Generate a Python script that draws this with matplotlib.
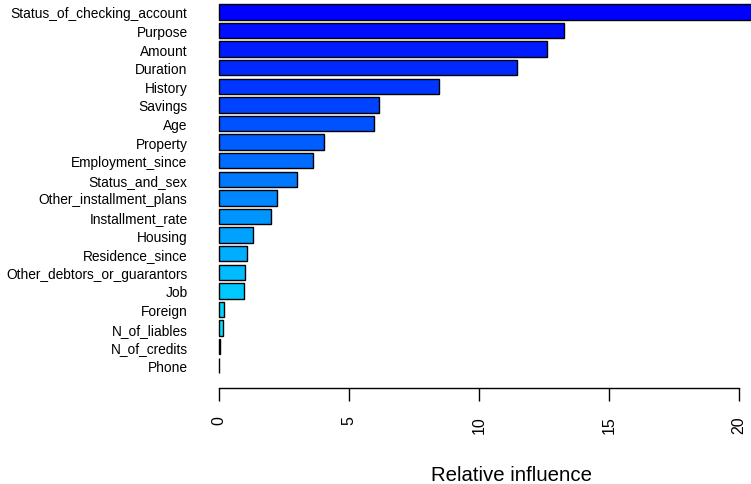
import colorsys

import matplotlib
matplotlib.use("Agg")
import matplotlib.pyplot as plt
import numpy as np

# relative influence of each predictor, highest first
variables = [
    "Status_of_checking_account", "Purpose", "Amount", "Duration", "History",
    "Savings", "Age", "Property", "Employment_since", "Status_and_sex",
    "Other_installment_plans", "Installment_rate", "Housing", "Residence_since",
    "Other_debtors_or_guarantors", "Job", "Foreign", "N_of_liables",
    "N_of_credits", "Phone",
]
rel_inf = [
    22.55, 13.26, 12.62, 11.45, 8.45,
    6.17, 5.95, 4.03, 3.60, 2.99,
    2.22, 2.01, 1.30, 1.08,
    1.00, 0.95, 0.19, 0.17,
    0.02, 0.0,
]
x_ticks = [0, 5, 10, 15, 20]

plt.rcParams["font.family"] = ["Liberation Sans", "DejaVu Sans"]

# drawn bottom-up like a horizontal barplot
names = variables[::-1]
vals = rel_inf[::-1]
n = len(vals)
ypos = np.arange(n)

# rainbow palette from cyan (bottom) to blue (top)
cols = [colorsys.hsv_to_rgb(0.5 + (1 / 6) * i / (n - 1), 1, 1) for i in range(n)]

W, H = 751, 485
fig = plt.figure(figsize=(W / 100, H / 100), dpi=100)

px_per_unit = 26.0
x0_px = 219.0
left_px = x0_px - 0.3 * px_per_unit
ax = fig.add_axes([left_px / W, (H - 389) / H, (W - left_px) / W, 389 / H])

ax.barh(ypos, vals, height=0.833, color=cols, edgecolor="black", linewidth=1.0)

ax.set_xlim(-0.3, (W - x0_px) / px_per_unit)
pitch = 18.6
ax.set_ylim(-(389 - (12.85 + 19 * pitch)) / pitch, 19 + 12.85 / pitch)

for s in ["top", "right", "left"]:
    ax.spines[s].set_visible(False)
ax.spines["bottom"].set_bounds(0, 20)
ax.spines["bottom"].set_linewidth(1.0)

ax.set_xticks(x_ticks)
ax.set_xticklabels([str(t) for t in x_ticks], rotation=90, fontsize=11.5)
ax.tick_params(axis="x", length=9.5, width=1.0, pad=10)

ax.set_yticks(ypos)
ax.set_yticklabels(names, fontsize=9.9)
ax.tick_params(axis="y", length=0, pad=17)

fig.text(511.4 / W, (H - 481) / H, "Relative influence", ha="center",
         va="baseline", fontsize=14.7)

fig.savefig("out.png", dpi=100)
